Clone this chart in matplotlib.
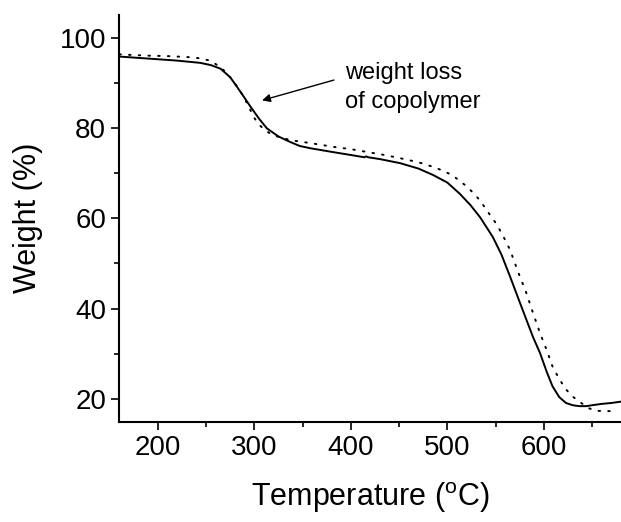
import matplotlib
matplotlib.use("Agg")
import matplotlib.pyplot as plt
from matplotlib.ticker import MultipleLocator

plt.rcParams['font.family'] = ['Liberation Sans', 'DejaVu Sans']
plt.rcParams['mathtext.fontset'] = 'custom'
plt.rcParams['mathtext.rm'] = 'Liberation Sans'

# Solid curve (copolymer sample)
solid_t = [160, 180, 200, 220, 244, 255, 265, 275, 282, 290, 296, 305, 313, 325, 337, 347, 358,
           380, 400, 414, 416, 418, 430, 451, 470, 485, 500, 513, 524, 534, 547, 556, 565, 574,
           582, 589, 596, 603, 609, 616, 623, 630, 637, 644, 650, 660, 670, 680]
solid_w = [95.8, 95.5, 95.2, 94.9, 94.4, 93.9, 93.1, 91.2, 89.1, 86.6, 84.7, 82.0, 79.9, 78.1, 76.9,
           76.0, 75.5, 74.7, 74.0, 73.5, 73.7, 73.5, 73.1, 72.2, 71.0, 69.6, 67.9, 65.4, 62.9, 60.2,
           55.9, 52.0, 47.1, 42.0, 37.5, 33.6, 30.2, 26.0, 22.8, 20.4, 19.1, 18.6, 18.4, 18.4, 18.6,
           18.9, 19.1, 19.4]

# Dotted curve
dot_t = [160, 168, 190, 210, 230, 244, 252, 258, 265, 272, 280, 289, 295, 300, 305, 310, 316, 324,
         332, 340, 350, 365, 382, 400, 416, 435, 451, 470, 485, 497, 506, 518, 527, 534, 544, 551,
         558, 565, 573, 582, 589, 596, 603, 609, 616, 623, 630, 637, 645, 653, 661, 669]
dot_w = [96.3, 96.2, 96.0, 95.9, 95.7, 95.4, 95.0, 94.4, 93.4, 92.0, 89.8, 86.9, 84.3, 82.2, 80.7,
         79.7, 78.8, 78.1, 77.6, 77.2, 76.9, 76.4, 75.8, 75.3, 74.7, 74.0, 73.3, 72.4, 71.4, 70.4,
         69.4, 67.4, 65.6, 63.9, 60.8, 58.7, 56.0, 53.0, 48.3, 43.4, 38.9, 34.6, 30.8, 27.2, 24.4,
         22.1, 20.5, 19.4, 18.1, 17.4, 17.3, 17.3]

x_label = "Temperature ($\\mathregular{^o}$C)"
y_label = "Weight (%)"
note_lines = ["weight loss", "of copolymer"]

W, H = 621, 522
fig = plt.figure(figsize=(W / 100, H / 100), dpi=100)
ax = fig.add_axes([119.3 / W, (H - 421.5) / H, 1 - 119.3 / W, (421.5 - 15) / H])

ax.plot(solid_t, solid_w, color='black', lw=1.4, solid_joinstyle='round')
ax.plot(dot_t, dot_w, color='black', lw=1.4, linestyle=(0, (0.8, 4.2)), dash_capstyle='round')

ax.set_xlim(160, 680)
ax.set_ylim(15, 105)
ax.xaxis.set_major_locator(MultipleLocator(100))
ax.xaxis.set_minor_locator(MultipleLocator(50))
ax.yaxis.set_major_locator(MultipleLocator(20))
ax.yaxis.set_minor_locator(MultipleLocator(10))

for s in ['top', 'right']:
    ax.spines[s].set_visible(False)
for s in ['left', 'bottom']:
    ax.spines[s].set_linewidth(1.5)

ax.tick_params(which='major', direction='out', length=5.5, width=1.2, labelsize=20, pad=4)
ax.tick_params(which='minor', direction='out', length=3.5, width=1.2)

ax.set_xlabel(x_label, fontsize=22, labelpad=14)
ax.set_ylabel(y_label, fontsize=22, labelpad=12)

ax.annotate("", xy=(308, 86.1), xytext=(382.5, 90.6),
            arrowprops=dict(arrowstyle='-|>', color='black', lw=1.0, mutation_scale=12,
                            shrinkA=0, shrinkB=0))
ax.text(394, 90.8, note_lines[0], fontsize=17, va='baseline', ha='left')
ax.text(394, 84.3, note_lines[1], fontsize=17, va='baseline', ha='left')

fig.savefig("out.png", dpi=100)
